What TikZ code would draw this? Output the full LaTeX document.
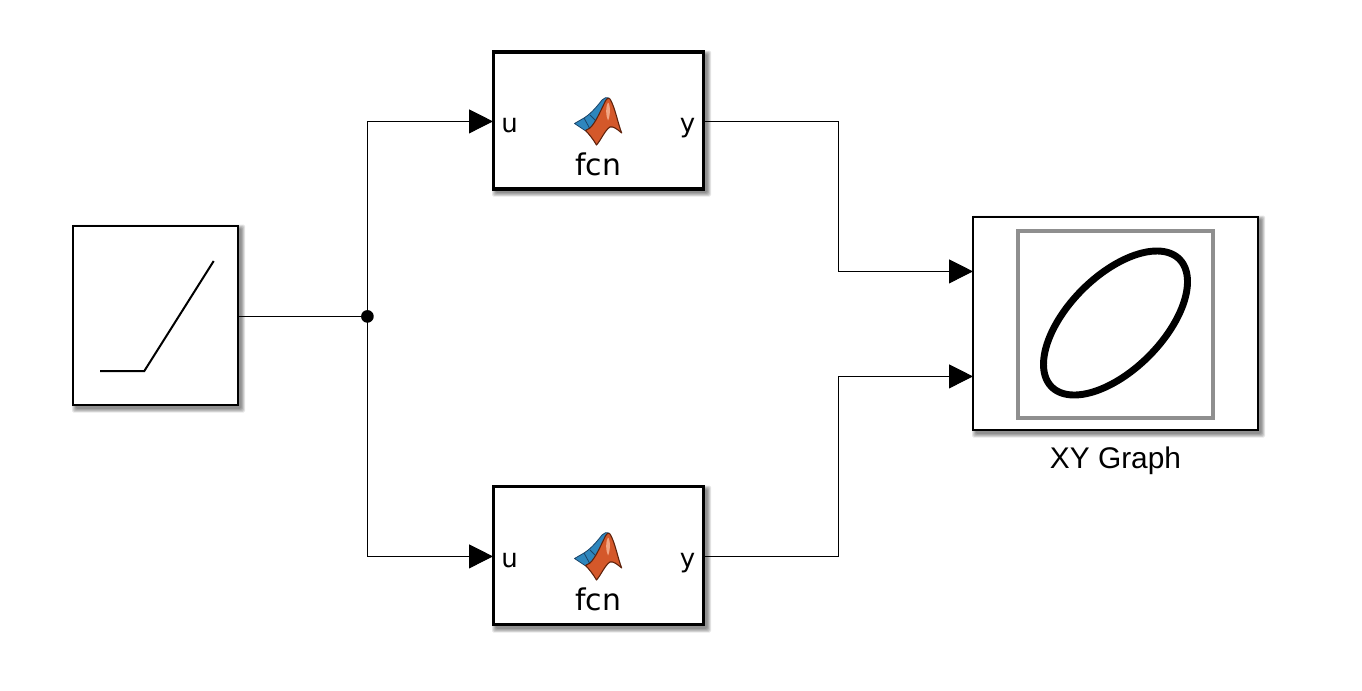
\documentclass[tikz,border=0pt]{standalone}
\usepackage{fontspec}
\setmainfont{Liberation Sans}
\newfontfamily\blockfont{DejaVu Sans}
\usetikzlibrary{arrows.meta}
\definecolor{framegray}{HTML}{8F8F8F}
\definecolor{logoblue}{HTML}{2E86BD}
\definecolor{logodarkblue}{HTML}{1B4468}
\definecolor{logoorange}{HTML}{D4582A}
\definecolor{logoedge}{HTML}{5E220C}
\definecolor{logolight}{HTML}{F2A583}
\tikzset{
  x=0.75pt,y=-0.75pt,
  blockbox/.style={draw=black,fill=white,line width=1.4pt,inner sep=0,outer sep=0,anchor=center},
  thickbox/.style={blockbox,line width=2.6pt},
  wire/.style={line width=0.75pt,black},
  arrowwire/.style={wire,-{Triangle[length=18pt,width=18pt]}},
  portlabel/.style={font=\blockfont\fontsize{19.5}{19.5}\selectfont,inner sep=0},
  namelabel/.style={font=\blockfont\fontsize{22.4}{22.4}\selectfont,inner sep=0},
  graphlabel/.style={font=\fontsize{22.4}{22.4}\selectfont,inner sep=0},
  junctiondot/.style={circle,fill=black,inner sep=0,minimum size=9.5pt,outer sep=0}
}
\newcommand{\softshadow}[4]{%
  \foreach \w in {8,6.5,5,3.5,2,0.5}{%
    \fill[black,opacity=0.09,rounded corners=1pt]
      (#1+3-\w*0.5,#2+3.5-\w*0.5) rectangle (#3+3+\w*0.5,#4+3.5+\w*0.5);
  }%
}
\newcommand{\matlablogo}[1]{%
  \begin{scope}[yshift=#1]
    \fill[logoblue,draw=logodarkblue,line width=0.6pt,line join=round]
      (574.5,123.5) -- (584,118) .. controls (592,113) and (598,105) .. (602,100)
      .. controls (604,97.5) and (607,97) .. (609,98) -- (600,118) -- (590,130) -- (585,130.5) -- cycle;
    \draw[logodarkblue,line width=0.6pt] (584,118) -- (590,129);
    \draw[logodarkblue,line width=0.6pt] (590,115) -- (597,122);
    \fill[logoorange,draw=logoedge,line width=0.8pt,line join=round]
      (590,128) .. controls (596,122) and (600,112) .. (604,104)
      .. controls (606,99) and (608,97) .. (610,99)
      .. controls (615,107) and (618,124) .. (621.7,133)
      .. controls (617,129) and (613,126) .. (610,127)
      .. controls (605,130) and (601,140) .. (596.5,145)
      .. controls (593,139) and (589,134) .. (585.5,130.5) -- cycle;
    \fill[logolight] (608,102.5) .. controls (610.5,104) and (610.5,116) .. (608,120.5)
      .. controls (605.5,116) and (605.5,106) .. (608,102.5) -- cycle;
  \end{scope}%
}
\begin{document}
\begin{tikzpicture}
\useasboundingbox (0,0) rectangle (1362,690);
\softshadow{73}{225}{238}{405}
\softshadow{493}{51}{704}{189}
\softshadow{493}{486}{704}{625}
\softshadow{973}{216}{1258}{430}
\node[blockbox,minimum width=123.5pt,minimum height=134.5pt] (ramp) at (155.7,315.5) {};
\node[thickbox,minimum width=157.25pt,minimum height=102.75pt] (fcna) at (598.5,120.5) {};
\node[thickbox,minimum width=157.25pt,minimum height=103.5pt] (fcnb) at (598.5,555.5) {};
\node[blockbox,minimum width=213.5pt,minimum height=160pt] (xy) at (1115.7,323.3) {};
% ramp icon
\draw[line width=1.5pt,line join=miter] (100,371) -- (144.3,371) -- (213.7,261);
% logos
\matlablogo{0pt}
\matlablogo{-326.25pt}
% port and name labels
\node[portlabel] (ua) at (509.5,125) {u};
\node[portlabel] (ya) at (687.5,128) {y};
\node[namelabel] (na) at (598,164.2) {fcn};
\node[portlabel] (ub) at (509.5,560) {u};
\node[portlabel] (yb) at (687.5,563) {y};
\node[namelabel] (nb) at (598,599.2) {fcn};
% XY icon
\node[draw=framegray,line width=2.6pt,inner sep=0,outer sep=0,minimum width=146.5pt,minimum height=140.5pt] (frame) at (1115.5,324.5) {};
\draw[line width=5.2pt,line join=round] plot[domain=0:360,samples=121,smooth] ({1115.5+72*cos(\x)},{323-72*cos(\x-55)}) -- cycle;
\node[graphlabel] (xylabel) at (1115.5,461.2) {XY Graph};
% connectors
\node[junctiondot] (junc) at (367.4,316.4) {};
\coordinate (rampout) at (238,316.4);
\coordinate (faout) at (704,121.4);
\coordinate (fain) at (493,121.4);
\coordinate (fbout) at (704,556.4);
\coordinate (fbin) at (493,556.4);
\coordinate (xyina) at (973,271.4);
\coordinate (xyinb) at (973,376.4);
\coordinate (busa) at (838,271.4);
\coordinate (busb) at (838,376.4);
\draw[wire] (rampout) -- (junc.center);
\draw[arrowwire] (junc.center) |- (fain);
\draw[arrowwire] (junc.center) |- (fbin);
\draw[wire] (faout) -| (busa);
\draw[arrowwire] (busa) -- (xyina);
\draw[wire] (fbout) -| (busb);
\draw[arrowwire] (busb) -- (xyinb);
\end{tikzpicture}
\end{document}
